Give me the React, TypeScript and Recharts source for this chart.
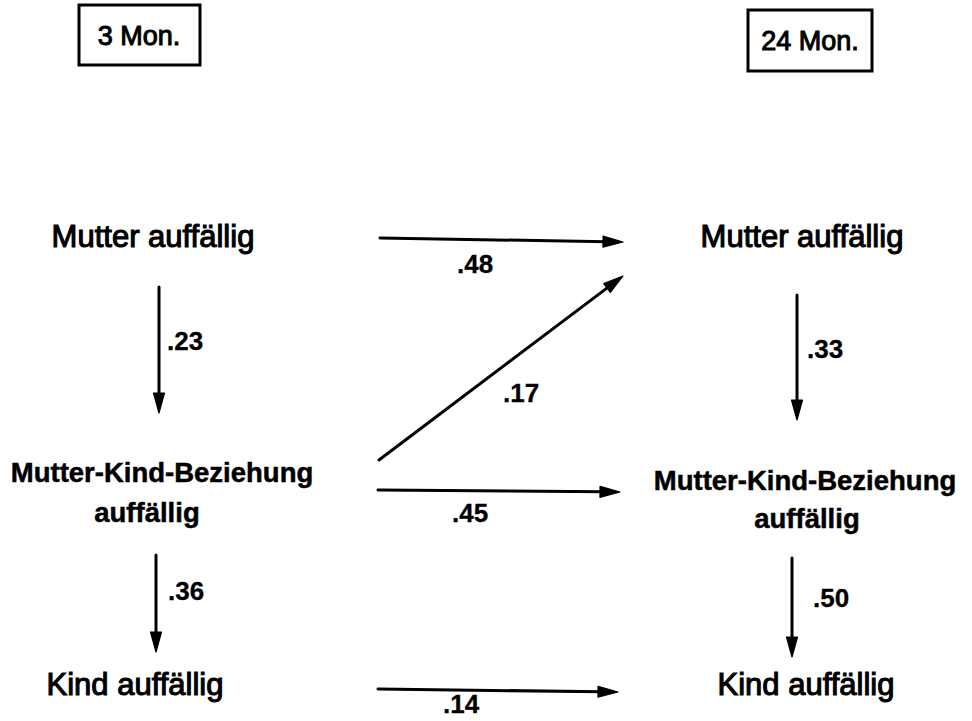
import React from "react";
import {
  ScatterChart,
  Scatter,
  XAxis,
  YAxis,
  ReferenceLine,
  ReferenceArea,
} from "recharts";

// Diagram coordinate space: x 0..972, y 0..721 (y grows downward)
const periodBoxes = [
  { label: "3 Mon.", x1: 79, x2: 200, y1: 5, y2: 65, tx: 139, ty: 45 },
  { label: "24 Mon.", x1: 748, x2: 872, y1: 10, y2: 71, tx: 810, ty: 50 },
];

const nodeLabels = [
  { x: 153, y: 247, text: "Mutter auffällig", kind: "node" },
  { x: 802, y: 247, text: "Mutter auffällig", kind: "node" },
  { x: 162, y: 482, text: "Mutter-Kind-Beziehung", kind: "rel" },
  { x: 147, y: 522, text: "auffällig", kind: "rel" },
  { x: 805, y: 490, text: "Mutter-Kind-Beziehung", kind: "rel" },
  { x: 807, y: 528, text: "auffällig", kind: "rel" },
  { x: 135, y: 695, text: "Kind auffällig", kind: "node" },
  { x: 806, y: 695, text: "Kind auffällig", kind: "node" },
];

const coefLabels = [
  { x: 167, y: 350, text: ".23" },
  { x: 168, y: 600, text: ".36" },
  { x: 807, y: 358, text: ".33" },
  { x: 813, y: 607, text: ".50" },
  { x: 457, y: 273, text: ".48" },
  { x: 503, y: 402, text: ".17" },
  { x: 452, y: 522, text: ".45" },
  { x: 443, y: 713, text: ".14" },
];

const paths = [
  { from: { x: 159, y: 287 }, to: { x: 159, y: 413 } },
  { from: { x: 156, y: 555 }, to: { x: 156, y: 652 } },
  { from: { x: 797, y: 295 }, to: { x: 797, y: 420 } },
  { from: { x: 792, y: 558 }, to: { x: 792, y: 657 } },
  { from: { x: 380, y: 238 }, to: { x: 623, y: 242 } },
  { from: { x: 379, y: 460 }, to: { x: 623, y: 276 } },
  { from: { x: 378, y: 490 }, to: { x: 620, y: 492 } },
  { from: { x: 378, y: 689 }, to: { x: 618, y: 692 } },
];

const FONT = '"Liberation Sans", Arial, Helvetica, sans-serif';

const Arrow = (props: any) => {
  const { x1, y1, x2, y2 } = props;
  const dx = x2 - x1;
  const dy = y2 - y1;
  const len = Math.sqrt(dx * dx + dy * dy) || 1;
  const ux = dx / len;
  const uy = dy / len;
  const L = 20;
  const W = 5.5;
  const bx = x2 - ux * L;
  const by = y2 - uy * L;
  const px = -uy;
  const py = ux;
  const pts = `${x2},${y2} ${bx + px * W},${by + py * W} ${bx - px * W},${by - py * W}`;
  return (
    <g>
      <line
        x1={x1}
        y1={y1}
        x2={x2 - ux * (L - 4)}
        y2={y2 - uy * (L - 4)}
        stroke="#000"
        strokeWidth={3}
        strokeLinecap="round"
      />
      <polygon points={pts} fill="#000" stroke="#000" strokeWidth={1.2} strokeLinejoin="round" />
    </g>
  );
};

const NodeText = (props: any) => {
  const { cx, cy, payload } = props;
  const rel = payload.kind === "rel";
  return (
    <text
      x={cx}
      y={cy}
      textAnchor="middle"
      fontFamily={FONT}
      fontSize={rel ? 27.5 : 31}
      fontWeight={rel ? 700 : 400}
      fill="#000"
      stroke="#000"
      strokeWidth={rel ? 0.5 : 1.1}
    >
      {payload.text}
    </text>
  );
};

const CoefText = (props: any) => {
  const { cx, cy, payload } = props;
  return (
    <text
      x={cx}
      y={cy}
      textAnchor="start"
      fontFamily={FONT}
      fontSize={26}
      fontWeight={700}
      fill="#000"
      stroke="#000"
      strokeWidth={0.3}
    >
      {payload.text}
    </text>
  );
};

const BoxText = (props: any) => {
  const { cx, cy, payload } = props;
  return (
    <text
      x={cx}
      y={cy}
      textAnchor="middle"
      fontFamily={FONT}
      fontSize={27}
      fontWeight={400}
      fill="#000"
      stroke="#000"
      strokeWidth={1}
    >
      {payload.label}
    </text>
  );
};

const boxTextData = periodBoxes.map((b) => ({ x: b.tx, y: b.ty, label: b.label }));

export default function App() {
  return (
    <div style={{ position: "absolute", left: 0, top: 0, background: "#fff" }}>
      <ScatterChart
        width={972}
        height={721}
        margin={{ top: 0, right: 0, bottom: 0, left: 0 }}
      >
        <XAxis type="number" dataKey="x" domain={[0, 972]} hide allowDataOverflow />
        <YAxis type="number" dataKey="y" domain={[0, 721]} reversed hide allowDataOverflow />
        {periodBoxes.map((b, i) => (
          <ReferenceArea
            key={"box" + i}
            x1={b.x1}
            x2={b.x2}
            y1={b.y1}
            y2={b.y2}
            fill="none"
            fillOpacity={0}
            stroke="#000"
            strokeWidth={3}
            ifOverflow="visible"
          />
        ))}
        {paths.map((p, i) => (
          <ReferenceLine
            key={"arrow" + i}
            segment={[p.from, p.to]}
            stroke="#000"
            ifOverflow="visible"
            shape={(sp: any) => <Arrow {...sp} />}
          />
        ))}
        <Scatter data={boxTextData} shape={BoxText} isAnimationActive={false} />
        <Scatter data={nodeLabels} shape={NodeText} isAnimationActive={false} />
        <Scatter data={coefLabels} shape={CoefText} isAnimationActive={false} />
      </ScatterChart>
    </div>
  );
}
